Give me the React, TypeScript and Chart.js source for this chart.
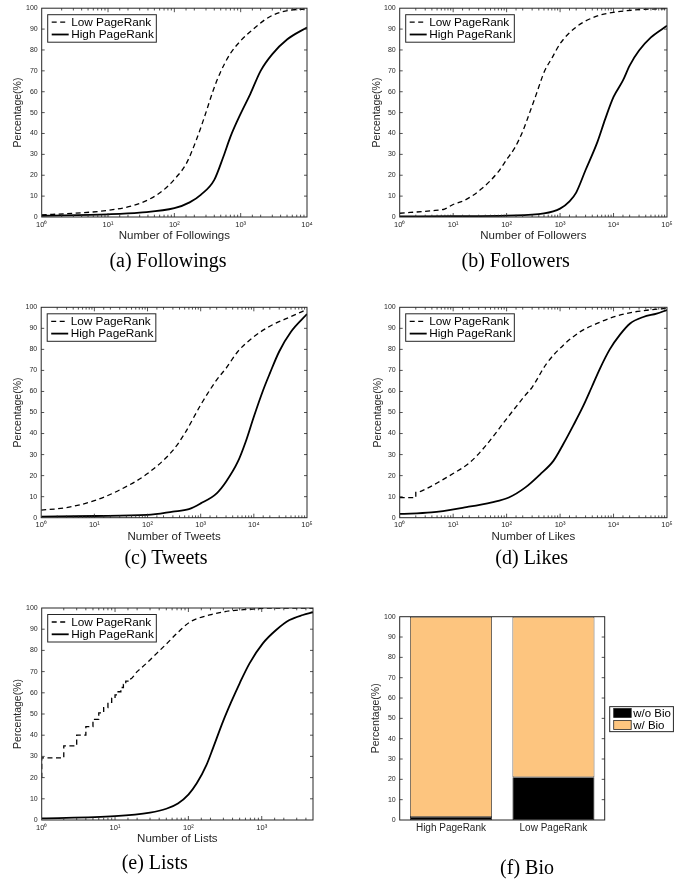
import React, { useEffect, useRef } from 'react';
import { Chart, registerables } from 'chart.js';
Chart.register(...registerables);

// ---------------- data ----------------
const followingsLowX = [1, 3, 9.6, 24, 43, 68, 100, 152, 215, 290, 385, 490, 690, 1000, 1550, 2450, 3900, 6000, 10000];
const followingsLowY = [1, 1.8, 3.1, 5.5, 8.7, 12.8, 18, 25.7, 37, 48.7, 60.6, 69, 78, 84.4, 90, 95, 98, 99.2, 99.6];
const followingsHighX = [1, 10, 30, 100, 170, 250, 400, 550, 700, 1000, 1400, 2000, 3000, 5000, 10000];
const followingsHighY = [0.6, 1.3, 2.1, 4.2, 7, 10.6, 17.8, 29, 38.4, 49.5, 59, 70, 78, 85, 90.8];

const followersLowX = [1, 3.9, 6.9, 10, 16.4, 34, 69, 100, 141, 200, 270, 350, 515, 700, 1000, 2000, 5000, 10000, 30000, 100000];
const followersLowY = [1.8, 3, 3.8, 6, 8, 13.5, 21.5, 27.5, 33, 41, 50, 58, 70, 76, 83, 91, 96.3, 98, 99.3, 99.8];
const followersHighX = [1, 10, 100, 500, 1000, 1500, 2000, 3000, 5000, 7000, 10000, 15000, 20000, 30000, 50000, 100000];
const followersHighY = [0.3, 0.4, 0.7, 1.7, 4, 7.5, 11.7, 22.5, 36, 47, 57.5, 65.4, 72.5, 79.7, 86, 91.6];

const tweetsLowX = [1, 3, 10, 30, 100, 300, 500, 1000, 2000, 3000, 5000, 10000, 20000, 50000, 100000];
const tweetsLowY = [3.6, 4.8, 8.1, 13.2, 21, 32, 40, 53.6, 65.5, 71, 79, 86, 91, 95.6, 99];
const tweetsHighX = [1, 10, 100, 300, 600, 1000, 2000, 3000, 5000, 7000, 10000, 15000, 20000, 30000, 50000, 100000];
const tweetsHighY = [0.5, 0.8, 1.3, 2.9, 4.1, 6.8, 11.6, 17.1, 26.6, 36, 48, 60.7, 68.6, 79, 88.4, 96.8];

const likesLowX = [1, 2, 2, 3, 5, 10, 20, 40, 100, 220, 300, 560, 1150, 2350, 4800, 10000, 20000, 42000, 100000];
const likesLowY = [9.5, 9.5, 12, 13.5, 16.5, 21, 26, 34, 47, 58, 62, 73.3, 82, 88.3, 92.2, 95.4, 97.4, 98.6, 99.5];
const likesHighX = [1, 3.9, 16.5, 53, 110, 225, 420, 750, 1150, 1780, 2700, 3900, 5600, 8500, 13200, 20400, 36000, 64000, 100000];
const likesHighY = [1.8, 2.5, 4.9, 7.3, 9.6, 14.4, 20.5, 27, 35, 44, 53, 62, 71, 80, 87, 92.3, 95.4, 97, 98.7];

// Lists: CDF steps at integer counts 1..15, then the dense tail
const listsLowStepY = [29.3, 35, 40, 44, 47.5, 50.5, 53, 55.5, 57.5, 59, 60.5, 62.5, 64, 65.5, 66.5];
const listsLowTailX = [20, 27, 37, 50, 72, 104, 195, 363, 760, 1500, 5000];
const listsLowTailY = [70, 74, 78.6, 83, 88.5, 93.3, 96.7, 98.6, 99.5, 100, 100];
const listsHighX = [1, 10, 30, 50, 72, 100, 130, 176, 216, 296, 385, 500, 682, 1035, 1570, 2390, 3630, 5000];
const listsHighY = [0.8, 1.8, 3.5, 5.3, 7.8, 12, 17.3, 25.9, 33.8, 46.4, 55.8, 64.5, 73.9, 83.3, 89.6, 94.3, 96.7, 98];

const bioCategories = ['High PageRank', 'Low PageRank'];
const bioWithout = [1.5, 21];
const bioWith = [98.5, 79];

const yTicks = [0, 10, 20, 30, 40, 50, 60, 70, 80, 90, 100];

// ---------------- style ----------------
const FONT = '"Liberation Sans", Arial, Helvetica, sans-serif';
const SERIF = '"Liberation Serif", "Times New Roman", Times, serif';
const INK = '#262626';
const ORANGE = '#FDC57F';
const SUP: Record<string, string> = { '0': '⁰', '1': '¹', '2': '²', '3': '³', '4': '⁴', '5': '⁵' };

function isPow10(v: number) {
  const l = Math.log10(v);
  return Math.abs(l - Math.round(l)) < 1e-6;
}
function zip(xs: number[], ys: number[]) {
  return xs.map((x, i) => ({ x, y: ys[i] }));
}
function listsLowPoints() {
  const pts: { x: number; y: number }[] = [{ x: 1, y: 20 }];
  listsLowStepY.forEach((v, i) => {
    pts.push({ x: i + 1, y: v });
    pts.push({ x: i + 2, y: v });
  });
  return pts.concat(zip(listsLowTailX, listsLowTailY));
}

const matlabFrame = {
  id: 'matlabFrame',
  afterDatasetsDraw(chart: any, _args: any, opts: any) {
    const { ctx, chartArea: a } = chart;
    const xs = chart.scales.x;
    const ys = chart.scales.y;
    ctx.save();
    ctx.strokeStyle = INK;
    ctx.lineWidth = 0.8;
    ctx.beginPath();
    if (opts.logX) {
      for (const t of xs.ticks) {
        const px = xs.getPixelForValue(t.value);
        if (px < a.left + 0.5 || px > a.right - 0.5) continue;
        const len = isPow10(t.value) ? 4 : 2.3;
        ctx.moveTo(px, a.bottom);
        ctx.lineTo(px, a.bottom - len);
        ctx.moveTo(px, a.top);
        ctx.lineTo(px, a.top + len);
      }
    }
    for (const t of ys.ticks) {
      const py = ys.getPixelForValue(t.value);
      if (py < a.top + 0.5 || py > a.bottom - 0.5) continue;
      ctx.moveTo(a.left, py);
      ctx.lineTo(a.left + 3, py);
      ctx.moveTo(a.right, py);
      ctx.lineTo(a.right - 3, py);
    }
    ctx.stroke();
    ctx.lineWidth = 1;
    ctx.strokeRect(a.left, a.top, a.right - a.left, a.bottom - a.top);

    const ds = chart.data.datasets;
    ctx.font = `${opts.legendSize}px ${FONT}`;
    ctx.textBaseline = 'middle';
    ctx.textAlign = 'left';
    const tw = Math.max(...ds.map((d: any) => ctx.measureText(d.label).width));
    if (opts.legend === 'inside') {
      const bx = a.left + 6, by = a.top + 6.5, rowH = 12.3;
      const bw = 23.5 + tw + 2.5, bh = 27.5;
      ctx.fillStyle = '#fff';
      ctx.fillRect(bx, by, bw, bh);
      ctx.strokeStyle = INK;
      ctx.lineWidth = 1;
      ctx.strokeRect(bx, by, bw, bh);
      ds.forEach((d: any, i: number) => {
        const cy = by + 7.5 + i * rowH;
        ctx.save();
        ctx.setLineDash(d.borderDash || []);
        ctx.lineWidth = d.borderWidth;
        ctx.strokeStyle = d.borderColor;
        ctx.beginPath();
        ctx.moveTo(bx + 4, cy);
        ctx.lineTo(bx + 21, cy);
        ctx.stroke();
        ctx.restore();
        ctx.fillStyle = '#000';
        ctx.fillText(d.label, bx + 23.5, cy + 0.5);
      });
    } else if (opts.legend === 'right') {
      const bh = 25, bw = 23.5 + tw + 2.5;
      const bx = a.right + 5, by = (a.top + a.bottom) / 2 - bh / 2 + 0.8;
      ctx.fillStyle = '#fff';
      ctx.fillRect(bx, by, bw, bh);
      ctx.strokeStyle = INK;
      ctx.lineWidth = 1;
      ctx.strokeRect(bx, by, bw, bh);
      ds.forEach((d: any, i: number) => {
        const cy = by + 6.3 + i * 12;
        ctx.fillStyle = d.backgroundColor;
        ctx.fillRect(bx + 4, cy - 4.5, 17.5, 9);
        ctx.strokeStyle = INK;
        ctx.lineWidth = 0.8;
        ctx.strokeRect(bx + 4, cy - 4.5, 17.5, 9);
        ctx.fillStyle = '#000';
        ctx.fillText(d.label, bx + 23.5, cy + 0.5);
      });
    }
    ctx.restore();
  },
};

type Spec = {
  kind: 'line' | 'bar';
  cl: number; ct: number; cw: number; ch: number;
  L: number; T: number; R: number; B: number;
  yTitleX: number; xTitleY?: number; xTitle?: string;
  xMax?: number;
  low?: { x: number; y: number }[];
  high?: { x: number; y: number }[];
  caption: string; capX: number; capY: number;
};

function yScale(s: Spec) {
  const yW = s.L - s.cl;
  return {
    min: 0,
    max: 100,
    afterBuildTicks: (sc: any) => { sc.ticks = yTicks.map((v) => ({ value: v })); },
    afterFit: (sc: any) => { sc.width = yW; },
    grid: { display: false, drawTicks: false },
    border: { display: false },
    ticks: { color: INK, padding: 4, font: { family: FONT, size: 7 } },
    title: {
      display: true,
      text: 'Percentage(%)',
      color: INK,
      font: { family: FONT, size: 10.5 },
      padding: { top: s.yTitleX - s.cl - 6.3, bottom: 0 },
    },
  };
}

function buildConfig(s: Spec): any {
  const padding = { left: 0, top: s.T - s.ct, right: s.cl + s.cw - s.R, bottom: 0 };
  const xH = s.ct + s.ch - s.B;
  if (s.kind === 'line') {
    return {
      type: 'line',
      data: {
        datasets: [
          { label: 'Low PageRank', data: s.low, borderColor: '#000', borderWidth: 1.3, borderDash: [5, 3.5], pointRadius: 0, cubicInterpolationMode: 'monotone', fill: false },
          { label: 'High PageRank', data: s.high, borderColor: '#000', borderWidth: 1.8, borderDash: [], pointRadius: 0, cubicInterpolationMode: 'monotone', fill: false },
        ],
      },
      options: {
        responsive: false,
        animation: false,
        events: [],
        layout: { padding },
        plugins: { legend: { display: false }, tooltip: { enabled: false }, matlabFrame: { logX: true, legend: 'inside', legendSize: 11.8 } },
        scales: {
          x: {
            type: 'logarithmic',
            min: 1,
            max: s.xMax,
            afterFit: (sc: any) => { sc.height = xH; },
            grid: { display: false, drawTicks: false },
            border: { display: false },
            ticks: {
              autoSkip: false,
              maxRotation: 0,
              color: INK,
              padding: 3,
              font: { family: FONT, size: 7.5 },
              callback: (v: number) => (isPow10(v) ? '10' + SUP[String(Math.round(Math.log10(v)))] : ''),
            },
            title: {
              display: true,
              text: s.xTitle,
              color: INK,
              font: { family: FONT, size: 11.5 },
              padding: { top: 0, bottom: s.ct + s.ch - (s.xTitleY as number) - 6.9 },
            },
          },
          y: yScale(s),
        },
      },
      plugins: [matlabFrame],
    };
  }
  return {
    type: 'bar',
    data: {
      labels: bioCategories,
      datasets: [
        { label: 'w/o Bio', data: bioWithout, backgroundColor: '#000', borderColor: INK, borderWidth: 0.8, borderSkipped: false },
        { label: 'w/ Bio', data: bioWith, backgroundColor: ORANGE, borderColor: INK, borderWidth: 0.8, borderSkipped: false },
      ],
    },
    options: {
      responsive: false,
      animation: false,
      events: [],
      layout: { padding },
      datasets: { bar: { categoryPercentage: 1, barPercentage: 0.8 } },
      plugins: { legend: { display: false }, tooltip: { enabled: false }, matlabFrame: { logX: false, legend: 'right', legendSize: 11.5 } },
      scales: {
        x: {
          stacked: true,
          afterFit: (sc: any) => { sc.height = xH; },
          grid: { display: false, drawTicks: false },
          border: { display: false },
          ticks: { color: INK, padding: 2.5, maxRotation: 0, font: { family: FONT, size: 10 } },
        },
        y: { ...yScale(s), stacked: true },
      },
    },
    plugins: [matlabFrame],
  };
}

const specs: Spec[] = [
  { kind: 'line', cl: 0, ct: 0, cw: 343, ch: 250, L: 41.7, T: 7.5, R: 307, B: 217, yTitleX: 18, xTitleY: 236, xTitle: 'Number of Followings', xMax: 10000,
    low: zip(followingsLowX, followingsLowY), high: zip(followingsHighX, followingsHighY), caption: '(a) Followings', capX: 168, capY: 260 },
  { kind: 'line', cl: 343, ct: 0, cw: 343, ch: 250, L: 399.7, T: 7.5, R: 667, B: 217, yTitleX: 377.3, xTitleY: 236, xTitle: 'Number of Followers', xMax: 100000,
    low: zip(followersLowX, followersLowY), high: zip(followersHighX, followersHighY), caption: '(b) Followers', capX: 515.7, capY: 260 },
  { kind: 'line', cl: 0, ct: 290, cw: 343, ch: 260, L: 41.2, T: 307.3, R: 307, B: 517.7, yTitleX: 18.3, xTitleY: 536.7, xTitle: 'Number of Tweets', xMax: 100000,
    low: zip(tweetsLowX, tweetsLowY), high: zip(tweetsHighX, tweetsHighY), caption: '(c) Tweets', capX: 166, capY: 556.7 },
  { kind: 'line', cl: 343, ct: 290, cw: 343, ch: 260, L: 399.7, T: 307.3, R: 667, B: 517.7, yTitleX: 378, xTitleY: 536.7, xTitle: 'Number of Likes', xMax: 100000,
    low: zip(likesLowX, likesLowY), high: zip(likesHighX, likesHighY), caption: '(d) Likes', capX: 531.7, capY: 556.7 },
  { kind: 'line', cl: 0, ct: 580, cw: 343, ch: 275, L: 41.7, T: 608, R: 313, B: 820, yTitleX: 18.3, xTitleY: 839.3, xTitle: 'Number of Lists', xMax: 5000,
    low: listsLowPoints(), high: zip(listsHighX, listsHighY), caption: '(e) Lists', capX: 154.7, capY: 861.7 },
  { kind: 'bar', cl: 343, ct: 580, cw: 343, ch: 275, L: 399.7, T: 616.7, R: 604.7, B: 820, yTitleX: 376.3,
    caption: '(f) Bio', capX: 527, capY: 866.7 },
];

function Panel({ spec }: { spec: Spec }) {
  const ref = useRef<HTMLCanvasElement>(null);
  useEffect(() => {
    const chart = new Chart(ref.current as HTMLCanvasElement, buildConfig(spec));
    return () => chart.destroy();
  }, [spec]);
  return (
    <>
      <canvas
        ref={ref}
        width={spec.cw}
        height={spec.ch}
        style={{ position: 'absolute', left: spec.cl, top: spec.ct, width: spec.cw, height: spec.ch }}
      />
      <div
        style={{
          position: 'absolute',
          left: spec.capX,
          top: spec.capY,
          transform: 'translate(-50%, -50%)',
          fontFamily: SERIF,
          fontSize: 20,
          whiteSpace: 'nowrap',
          color: '#000',
          lineHeight: 1,
        }}
      >
        {spec.caption}
      </div>
    </>
  );
}

export default function App() {
  return (
    <div style={{ position: 'absolute', left: 0, top: 0, width: 686, height: 880, background: '#fff', overflow: 'hidden' }}>
      {specs.map((s, i) => (
        <Panel key={i} spec={s} />
      ))}
    </div>
  );
}
